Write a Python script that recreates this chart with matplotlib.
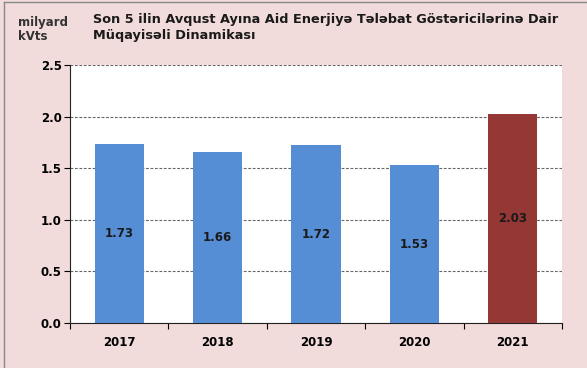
import matplotlib.pyplot as plt
import numpy as np

years = ['2017', '2018', '2019', '2020', '2021']
values = [1.73, 1.66, 1.72, 1.53, 2.03]
colors = ['#558ed5', '#558ed5', '#558ed5', '#558ed5', '#953735']
yticks = [0.0, 0.5, 1.0, 1.5, 2.0, 2.5]

bg = '#f2dcdb'
fig = plt.figure(figsize=(5.87, 3.68), dpi=100, facecolor=bg)
ax = fig.add_axes([70 / 587, 1 - 323 / 368, 492 / 587, 258 / 368])
ax.set_facecolor('white')

x = np.arange(len(years))
bars = ax.bar(x, values, width=0.5, color=colors, zorder=3)
for xi, v in zip(x, values):
    ax.text(xi, v / 2, f'{v:.2f}', ha='center', va='center',
            fontsize=8.5, fontweight='bold', color='#1a1a1a', zorder=4)

ax.set_xlim(-0.5, len(years) - 0.5)
ax.set_ylim(0, 2.5)
ax.set_yticks(yticks)
ax.set_yticklabels([f'{t:.1f}' for t in yticks], fontsize=8.5, fontweight='bold')
ax.yaxis.grid(True, linestyle=(0, (2.5, 1.5)), color='#666666', linewidth=0.8, zorder=1)

# category ticks at boundaries, labels at centers
ax.set_xticks(np.arange(len(years) + 1) - 0.5)
ax.set_xticklabels([])
ax.set_xticks(x, minor=True)
ax.set_xticklabels(years, minor=True, fontsize=8.5, fontweight='bold')
ax.tick_params(axis='x', which='minor', length=0, pad=9)
ax.tick_params(axis='x', which='major', length=4, direction='out')
ax.tick_params(axis='y', length=4, direction='out', pad=2)

for s in ['top', 'right']:
    ax.spines[s].set_visible(False)
ax.spines['left'].set_color('#222222')
ax.spines['bottom'].set_color('#222222')

fig.text(18 / 587, 1 - 16 / 368, 'milyard\nkVts', fontsize=8.5, fontweight='bold',
         color='#333333', va='top', ha='left', linespacing=1.15)
fig.text(93 / 587, 1 - 13 / 368,
         'Son 5 ilin Avqust Ayına Aid Enerjiyə Tələbat Göstəricilərinə Dair\nMüqayisəli Dinamikası',
         fontsize=9.3, fontweight='bold', color='#1a1a1a', va='top', ha='left', linespacing=1.3)

# thin frame at top and left
fig.add_artist(plt.Line2D([4 / 587, 4 / 587], [0, 1 - 2 / 368], color='#888888', lw=1))
fig.add_artist(plt.Line2D([4 / 587, 1], [1 - 2 / 368, 1 - 2 / 368], color='#888888', lw=1))

fig.savefig('out.png', dpi=100, facecolor=bg)
